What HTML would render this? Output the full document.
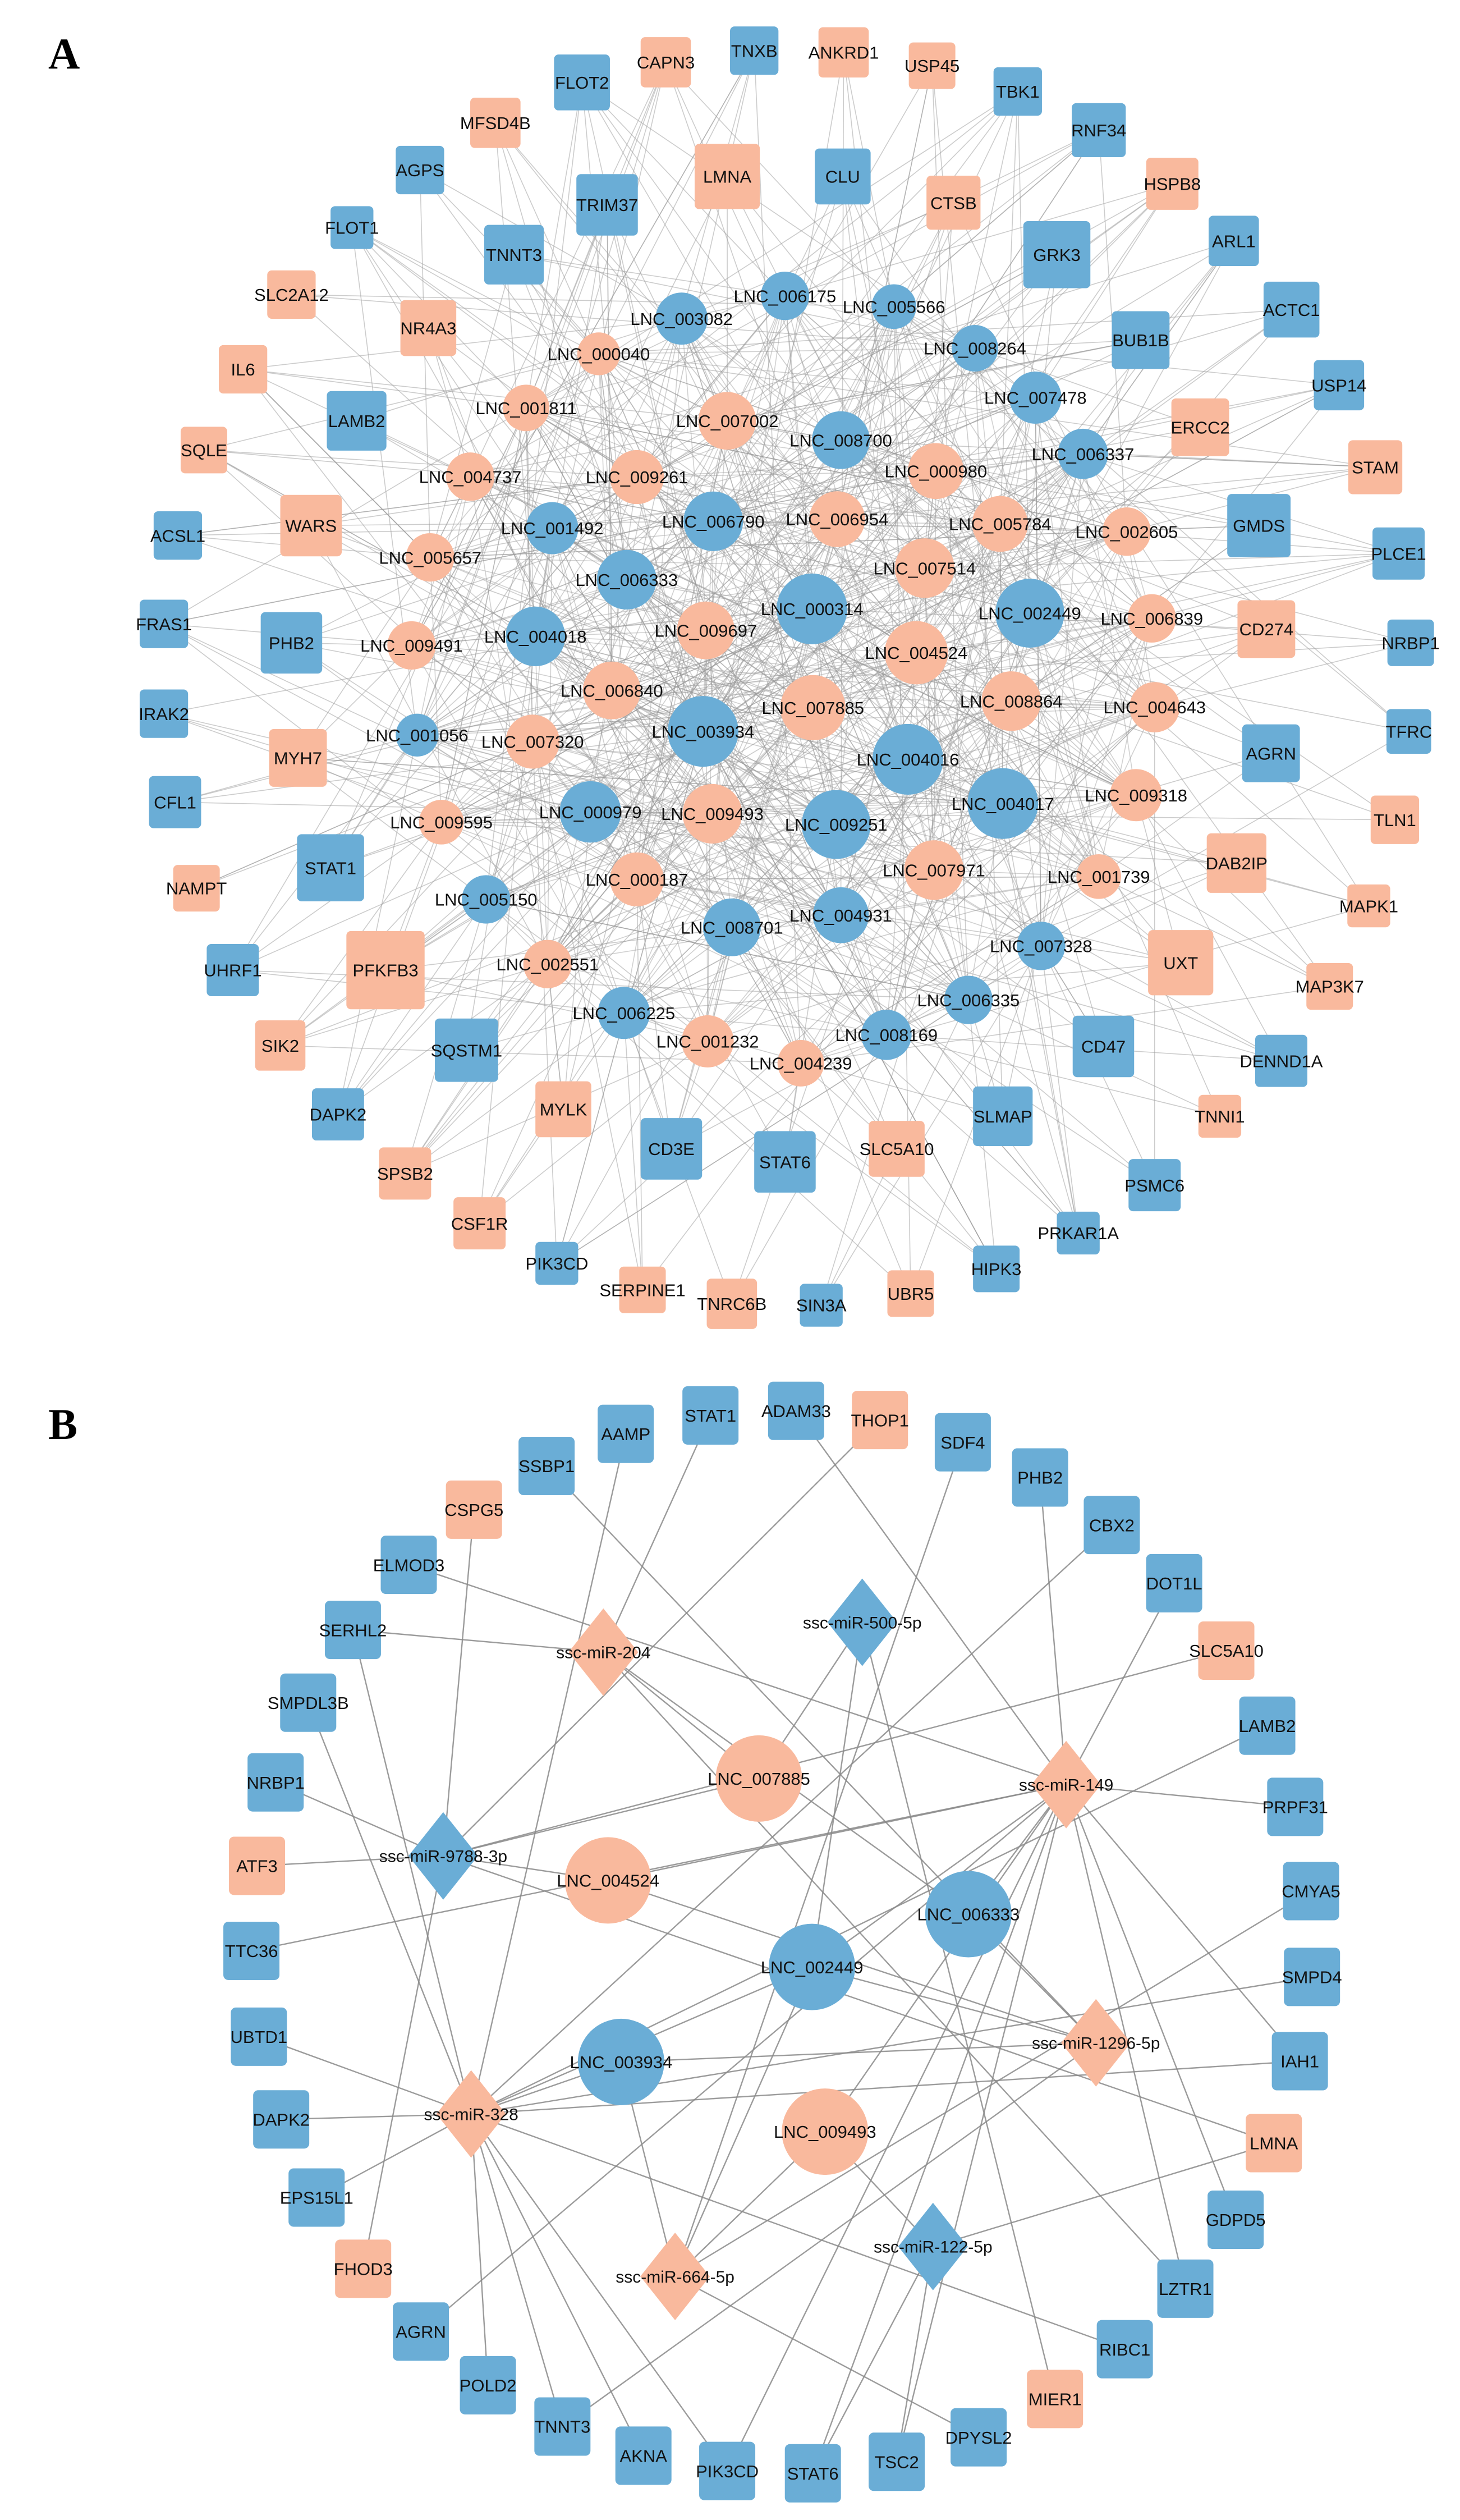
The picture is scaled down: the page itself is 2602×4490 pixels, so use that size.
<!DOCTYPE html>
<html><head><meta charset="utf-8">
<style>
html,body{margin:0;padding:0;background:#fff;}
svg{display:block;}
text{font-family:"Liberation Sans",Arial,sans-serif;fill:#111;}
</style></head>
<body>
<svg id="s" xmlns="http://www.w3.org/2000/svg" width="2602" height="4490" viewBox="0 0 2602 4490">
<rect width="2602" height="4490" fill="#fff"/>
<g id="eA"></g><g id="eB"></g><g id="nd"></g>
<text x="86" y="122" style="font-family:'Liberation Serif',serif;font-weight:bold;font-size:78px;fill:#000">A</text>
<text x="86" y="2564" style="font-family:'Liberation Serif',serif;font-weight:bold;font-size:78px;fill:#000">B</text>
</svg>
<script>
var SX=0.6026, BLUE="#6aadd6", SAL="#f9b99d";
var NS="http://www.w3.org/2000/svg";
function el(t,a,p){var e=document.createElementNS(NS,t);for(var k in a)e.setAttribute(k,a[k]);(p||document.getElementById('nd')).appendChild(e);return e;}
var topA=`TNXB B 810 118 52 q
CAPN3 S 715 145 54 q
ANKRD1 S 906 122 54 q
USP45 S 1001 153 50 q
FLOT2 B 625 192 60 q
TBK1 B 1093 213 52 q
RNF34 B 1180 303 58 q
MFSD4B S 532 286 54 q
AGPS B 451 396 52 q
LMNA S 781 411 70 q
CLU B 905 411 60 q
CTSB S 1024 472 58 q
HSPB8 S 1259 428 56 q
TRIM37 B 652 477 66 q
ARL1 B 1325 561 54 q
FLOT1 B 378 530 46 q
TNNT3 B 552 593 64 q
GRK3 B 1135 593 72 q
SLC2A12 S 313 686 52 q
ACTC1 B 1387 721 60 q
NR4A3 S 460 764 60 q
BUB1B B 1225 792 62 q
IL6 S 261 860 52 q
USP14 B 1438 897 54 q
LAMB2 B 383 980 64 q
ERCC2 S 1289 995 62 q
SQLE S 219 1048 50 q
STAM S 1477 1088 58 q
WARS S 334 1224 66 q
GMDS B 1352 1224 68 q
ACSL1 B 191 1247 52 q
PLCE1 B 1502 1289 56 q
FRAS1 B 176 1453 52 q
PHB2 B 313 1497 66 q
CD274 S 1360 1465 62 q
NRBP1 B 1515 1497 50 q
LNC_006175 B 843 689 52 c
LNC_005566 B 960 714 48 c
LNC_003082 B 732 742 56 c
LNC_008264 B 1047 811 50 c
LNC_000040 S 643 824 46 c
LNC_007478 B 1112 926 56 c
LNC_001811 S 565 950 50 c
LNC_007002 S 781 980 62 c
LNC_008700 B 903 1025 62 c
LNC_006337 B 1163 1057 54 c
LNC_000980 S 1005 1097 60 c
LNC_004737 S 505 1110 52 c
LNC_009261 S 684 1111 58 c
LNC_001492 B 593 1230 56 c
LNC_006790 B 766 1214 64 c
LNC_006954 S 899 1209 60 c
LNC_005784 S 1074 1220 60 c
LNC_002605 S 1210 1238 52 c
LNC_005657 S 462 1298 52 c
LNC_007514 S 993 1323 64 c
LNC_006333 B 673 1350 64 c
LNC_000314 B 872 1418 76 c
LNC_002449 B 1106 1428 74 c
LNC_006839 S 1237 1440 52 c
LNC_009491 S 442 1503 52 c
LNC_004018 B 575 1482 64 c
LNC_009697 S 758 1468 62 c
LNC_004524 S 984 1520 68 c`;
var botA=`IRAK2 B 176 207 52 q
MYH7 S 320 302 62 q
CFL1 B 188 397 56 q
LNC_006840 S 657 157 62 c
LNC_007885 S 873 194 70 c
LNC_008864 S 1086 180 64 c
LNC_004643 S 1240 193 54 c
LNC_001056 B 448 253 46 c
LNC_007320 S 572 267 58 c
LNC_003934 B 755 245 76 c
LNC_004016 B 975 305 76 c
AGRN B 1365 292 62 q
TFRC B 1513 245 48 q
LNC_009318 S 1220 382 56 c
LNC_004017 B 1077 400 76 c
LNC_000979 B 634 418 66 c
LNC_009493 S 765 422 64 c
LNC_009251 B 898 445 74 c
LNC_009595 S 474 440 48 c
TLN1 S 1498 435 52 q
STAT1 B 355 538 72 q
NAMPT S 211 582 50 q
DAB2IP S 1328 528 64 q
LNC_007971 S 1003 543 64 c
LNC_001739 S 1180 557 48 c
LNC_000187 S 684 563 58 c
LNC_005150 B 522 606 52 c
MAPK1 S 1470 620 46 q
LNC_004931 B 903 640 60 c
LNC_008701 B 786 666 62 c
LNC_007328 B 1118 706 52 c
UHRF1 B 250 758 56 q
PFKFB3 S 414 758 84 q
UXT S 1268 742 70 q
MAP3K7 S 1428 793 50 q
LNC_002551 S 588 745 52 c
LNC_006225 B 670 850 56 c
LNC_006335 B 1040 822 52 c
SIK2 S 301 920 54 q
SQSTM1 B 501 930 68 q
LNC_001232 S 760 911 56 c
LNC_008169 B 952 897 54 c
LNC_004239 S 860 958 50 c
CD47 B 1185 922 66 q
DENND1A B 1376 953 56 q
DAPK2 B 363 1068 56 q
MYLK S 605 1057 60 q
SLMAP B 1077 1072 64 q
TNNI1 S 1310 1072 46 q
CD3E B 721 1142 66 q
STAT6 B 843 1170 66 q
SLC5A10 S 963 1142 60 q
SPSB2 S 435 1195 56 q
PSMC6 B 1240 1220 56 q
CSF1R S 515 1302 56 q
PRKAR1A B 1158 1323 46 q
PIK3CD B 598 1388 46 q
HIPK3 B 1070 1400 50 q
SERPINE1 S 690 1445 50 q
TNRC6B S 786 1475 54 q
SIN3A B 882 1478 46 q
UBR5 S 978 1453 50 q`;
var A=[];
function parse(str,sy,off){str.split("\n").forEach(function(l){var p=l.trim().split(/\s+/);A.push({n:p[0],c:p[1]=="B"?BLUE:SAL,x:+p[2]/SX,y:off+ +p[3]/sy,s:+p[4]/SX,t:p[5]});});}
parse(topA,1.307,0);parse(botA,1.206,1100);
var seed=12345;function rnd(){seed=(seed*1103515245+12345)&0x7fffffff;return seed/0x7fffffff;}
var circ=A.filter(function(n){return n.t=="c";}), sq=A.filter(function(n){return n.t=="q";});
var eA=document.getElementById('eA');
function addLine(a,b,g,w,col,op){el('line',{x1:a.x.toFixed(1),y1:a.y.toFixed(1),x2:b.x.toFixed(1),y2:b.y.toFixed(1),stroke:col,'stroke-width':w,'stroke-opacity':op},g);}
sq.forEach(function(q){
  var sorted=circ.slice().sort(function(a,b){return Math.hypot(a.x-q.x,a.y-q.y)-Math.hypot(b.x-q.x,b.y-q.y);});
  var k=3+Math.floor(rnd()*6);
  for(var i=0;i<k;i++){var c=sorted[Math.floor(Math.pow(rnd(),1.6)*sorted.length)];addLine(q,c,eA,1.6,"#9a9a9a",0.5);}
});
circ.forEach(function(c){
  var k=6+Math.floor(rnd()*6);
  for(var i=0;i<k;i++){var d=circ[Math.floor(rnd()*circ.length)];if(d!==c)addLine(c,d,eA,1.6,"#9a9a9a",0.45);}
});
var SYB=0.7327,OFB=2350;
var Bn=`STAT1 B 763 126 q
AAMP B 672 150 q
ADAM33 B 855 120 q
THOP1 S 945 132 q
SDF4 B 1034 161 q
SSBP1 B 587 192 q
PHB2 B 1117 207 q
CSPG5 S 509 249 q
CBX2 B 1194 269 q
ELMOD3 B 439 321 q
DOT1L B 1261 345 q
SERHL2 B 379 406 q
SLC5A10 S 1317 433 q
SMPDL3B B 331 501 q
LAMB2 B 1361 531 q
NRBP1 B 296 605 q
PRPF31 B 1391 637 q
ATF3 S 276 714 q
CMYA5 B 1408 747 q
TTC36 B 270 825 q
SMPD4 B 1409 859 q
UBTD1 B 278 937 q
IAH1 B 1396 969 q
DAPK2 B 302 1045 q
LMNA S 1368 1076 q
EPS15L1 B 340 1147 q
GDPD5 B 1327 1176 q
FHOD3 S 390 1240 q
LZTR1 B 1273 1266 q
AGRN B 452 1322 q
RIBC1 B 1208 1345 q
POLD2 B 524 1392 q
MIER1 S 1133 1410 q
TNNT3 B 604 1446 q
DPYSL2 B 1051 1460 q
AKNA B 691 1484 q
TSC2 B 963 1492 q
PIK3CD B 781 1504 q
STAT6 B 873 1507 q
ssc-miR-204 S 648 435 d
ssc-miR-500-5p B 926 396 d
ssc-miR-149 S 1145 608 d
ssc-miR-9788-3p B 476 701 d
ssc-miR-1296-5p S 1177 945 d
ssc-miR-328 S 506 1038 d
ssc-miR-664-5p S 725 1250 d
ssc-miR-122-5p B 1002 1211 d
LNC_007885 S 815 600 c
LNC_004524 S 653 733 c
LNC_006333 B 1040 777 c
LNC_002449 B 872 846 c
LNC_003934 B 667 970 c
LNC_009493 S 886 1061 c`;
var B={},Bl=[];
Bn.split("\n").forEach(function(l){var p=l.trim().split(/\s+/);var o={n:p[0],c:p[1]=="B"?BLUE:SAL,x:+p[2]/SX,y:OFB+ +p[3]/SYB,t:p[4]};B[p[0]]=o;Bl.push(o);});
var m="ssc-miR-";
var eBs=[["ELMOD3","149"],["SERHL2","204"],["CSPG5","9788-3p"],["SMPDL3B","328"],["SERHL2","328"],["NRBP1","9788-3p"],["ATF3","9788-3p"],["TTC36","149"],["UBTD1","328"],["DAPK2","328"],["EPS15L1","328"],["FHOD3","9788-3p"],["AGRN","149"],["POLD2","328"],["TNNT3","328"],["TNNT3","1296-5p"],["AKNA","328"],["PIK3CD","328"],["PIK3CD","149"],["STAT6","149"],["STAT6","122-5p"],["TSC2","149"],["TSC2","122-5p"],["DPYSL2","664-5p"],["MIER1","500-5p"],["RIBC1","328"],["LZTR1","149"],["LZTR1","204"],["GDPD5","149"],["LMNA","122-5p"],["LMNA","9788-3p"],["IAH1","149"],["IAH1","328"],["SMPD4","328"],["CMYA5","664-5p"],["PRPF31","149"],["LAMB2","328"],["SLC5A10","9788-3p"],["DOT1L","149"],["CBX2","328"],["PHB2","149"],["SDF4","664-5p"],["THOP1","9788-3p"],["ADAM33","149"],["STAT1","204"],["AAMP","328"],["SSBP1","1296-5p"]];
var eBg=document.getElementById('eB');
eBs.forEach(function(e){addLine(B[e[0]],B[m+e[1]],eBg,2.4,"#8a8a8a",0.85);});
var lnc=[["LNC_007885","204"],["LNC_007885","500-5p"],["LNC_007885","9788-3p"],["LNC_004524","9788-3p"],["LNC_004524","149"],["LNC_004524","1296-5p"],["LNC_006333","204"],["LNC_006333","149"],["LNC_006333","1296-5p"],["LNC_002449","149"],["LNC_002449","328"],["LNC_002449","664-5p"],["LNC_002449","1296-5p"],["LNC_002449","500-5p"],["LNC_003934","328"],["LNC_003934","664-5p"],["LNC_003934","1296-5p"],["LNC_009493","122-5p"],["LNC_009493","664-5p"],["LNC_009493","149"]];
lnc.forEach(function(e){addLine(B[e[0]],B[m+e[1]],eBg,2.4,"#8a8a8a",0.85);});
function label(n,x,y,fs){var t=el('text',{x:x.toFixed(1),y:(y+fs*0.36).toFixed(1),'text-anchor':'middle','font-size':fs});t.textContent=n;}
A.forEach(function(n){
  if(n.t=="q"){var s=n.s;el('rect',{x:n.x-s/2,y:n.y-s/2,width:s,height:s,rx:8,fill:n.c});}
  else el('circle',{cx:n.x,cy:n.y,r:n.s/2,fill:n.c});
});
A.forEach(function(n){label(n.n,n.x,n.y,31);});
Bl.forEach(function(n){
  if(n.t=="q")el('rect',{x:n.x-50,y:n.y-52,width:100,height:104,rx:9,fill:n.c});
  else if(n.t=="c")el('circle',{cx:n.x,cy:n.y,r:77,fill:n.c});
  else el('polygon',{points:[n.x,n.y-78,n.x+62,n.y,n.x,n.y+78,n.x-62,n.y].join(' '),fill:n.c});
});
Bl.forEach(function(n){label(n.n,n.x,n.y,n.t=="d"?30:31);});
</script>
</body></html>
